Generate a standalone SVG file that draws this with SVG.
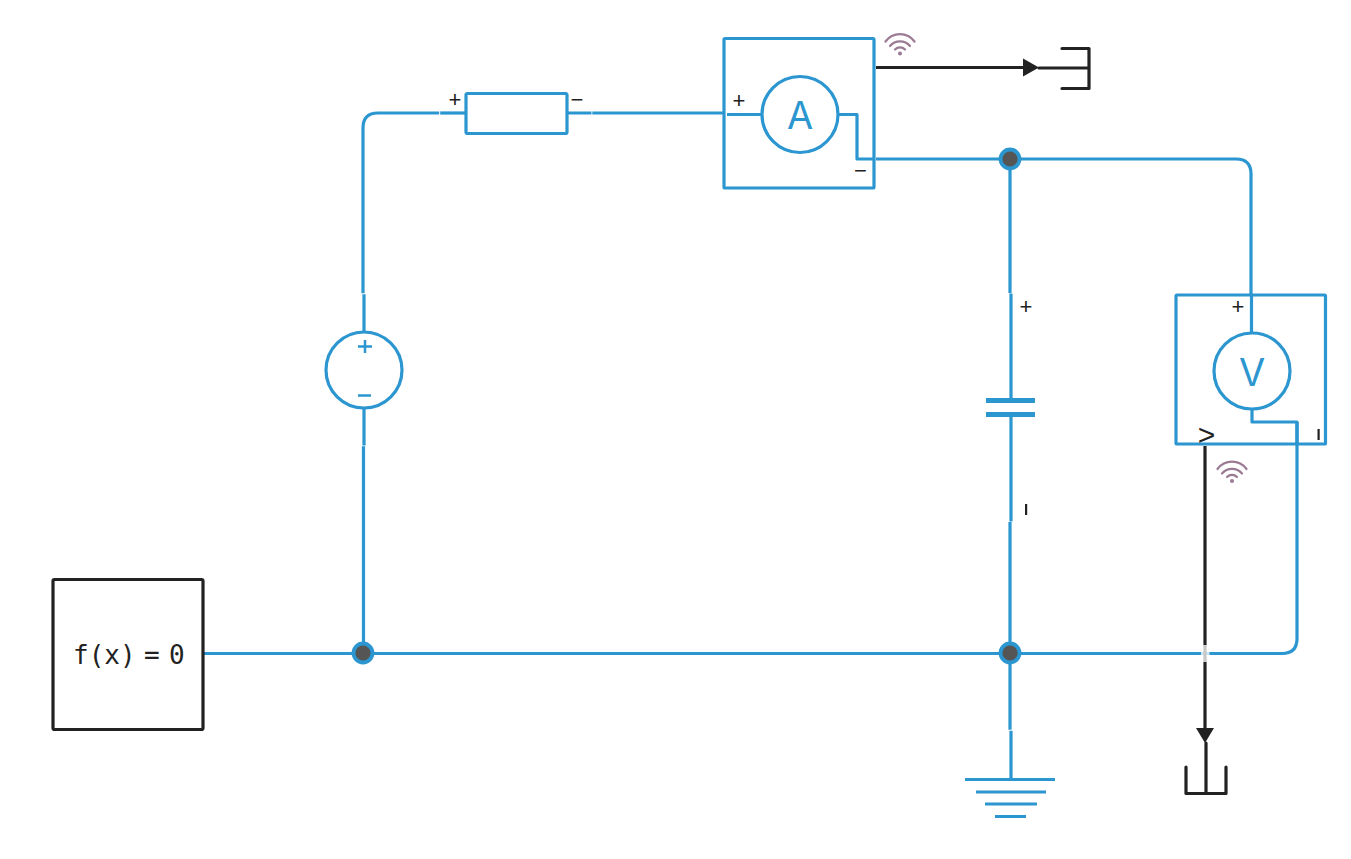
<svg xmlns="http://www.w3.org/2000/svg" width="1351" height="859" viewBox="0 0 1351 859">
<style>
.w{fill:none;stroke:#2b96d0;stroke-width:3.2;stroke-linejoin:round}
.b{fill:none;stroke:#222;stroke-width:3.2;stroke-linejoin:round;stroke-linecap:round}
.c{fill:#222;stroke:none}
.j{fill:#555;stroke:#2b96d0;stroke-width:3.8}
.t{font-family:"Liberation Sans",sans-serif;font-size:22px;fill:#222;text-anchor:middle}
.l{font-family:Inter,sans-serif;font-weight:400;font-size:38px;fill:#2b96d0;text-anchor:middle}
.f{fill:none;stroke:#9b7a94;stroke-width:2.200;stroke-linecap:round}
.d{fill:#9b7a94}
</style>
<defs>
<g id="wifi">
<path class="f" d="M-14.500 -12A18 18 0 0 1 14.500 -12M-10 -7.500A13 13 0 0 1 10 -7.500M-5 -4A7 7 0 0 1 5 -4"/>
<circle class="d" cx="0" cy="0" r="2"/>
</g>
</defs>
<rect width="1351" height="859" fill="#fff"/>
<g id="connectors">
<path class="w" d="M204 653.500H1282Q1297 653.500 1297 638.500V422"/>
<path class="w" d="M363 293.300V128Q363 113 378 113H439.200"/>
<path class="w" d="M440.200 113H466"/>
<path class="w" d="M567 113H591.500M592.300 113H724"/>
<path class="w" d="M363.500 446.300V653"/>
<path class="w" d="M876 159H1236Q1251 159 1251 174V294"/>
<path class="w" d="M1010 159V293"/>
<path class="w" d="M1010 522V653"/>
<path class="w" d="M1010 653V729.700"/>
<path class="b" style="stroke-linecap:butt" d="M876 67.500H1025"/>
<polygon class="c" points="1023,58.500 1039,67.500 1023,76.500"/>
<path class="b" style="stroke-linecap:butt" d="M1205 446V730"/>
<polygon class="c" points="1196,728 1214,728 1205,743"/>
<rect x="1201" y="645" width="8.500" height="17" fill="#fff" opacity="0.75"/>
</g>
<g id="source">
<circle class="w" cx="364" cy="370" r="38"/>
<path class="w" d="M364 294.300V332M364 408V445.500"/>
<path d="M358 346.500H372M365 340V353" fill="none" stroke="#2b96d0" stroke-width="2.500"/>
<path d="M358 395.500H371" fill="none" stroke="#2b96d0" stroke-width="2.500"/>
</g>
<g id="resistor">
<rect class="w" x="466" y="93.500" width="101" height="40" rx="1.500"/>
<text class="t" x="455" y="107">+</text>
<text class="t" x="577" y="107">−</text>
</g>
<g id="ammeter">
<rect class="w" x="724" y="38.500" width="150" height="149.500" rx="1"/>
<circle class="w" cx="800" cy="114.500" r="38"/>
<path class="w" d="M727 114.500H762M839 114.500H857V159H874"/>
<text class="l" x="800" y="129">A</text>
<text class="t" x="739" y="107.500">+</text>
<text class="t" x="860.500" y="177.500">−</text>
<use href="#wifi" x="900" y="53.500"/>
</g>
<g id="capacitor">
<path class="w" d="M1011 293.500V400M1011 414V521.500"/>
<rect x="986" y="398" width="49" height="5" fill="#2b96d0"/>
<rect x="986" y="412" width="49" height="5" fill="#2b96d0"/>
<text class="t" x="1026" y="313.500">+</text>
<rect x="1025" y="504" width="2.200" height="11" fill="#222"/>
</g>
<g id="voltmeter">
<rect class="w" x="1176" y="295" width="149.500" height="149" rx="1"/>
<circle class="w" cx="1252" cy="371" r="38"/>
<path class="w" d="M1251.500 295V333M1252 409V422H1297V444"/>
<text class="l" x="1252" y="386">V</text>
<text class="t" x="1238" y="313.500">+</text>
<text class="t" x="1206.500" y="444.500" style="font-size:30px">&gt;</text>
<rect x="1317.500" y="429" width="2.200" height="11" fill="#222"/>
<use href="#wifi" x="1232" y="481"/>
</g>
<g id="function">
<rect x="53" y="579.500" width="150" height="150" rx="1.500" fill="#fff" stroke="#222" stroke-width="3.200"/>
<text x="73" y="664" font-family="'DejaVu Sans Mono',monospace" font-size="26" fill="#222">f(x)<tspan x="144">=</tspan><tspan x="169">0</tspan></text>
</g>
<g id="junction-1"><circle class="j" cx="363" cy="653" r="9.500"/></g>
<g id="junction-2"><circle class="j" cx="1010" cy="159" r="9.500"/></g>
<g id="junction-3"><circle class="j" cx="1010" cy="653" r="9.500"/></g>
<g id="ground">
<path class="w" d="M1011 730.700V779M965 779.500H1055M976 792H1046M985 804H1037M995 816.500H1026"/>
</g>
<g id="sink-right">
<path class="b" d="M1039 68H1089M1062 48.500H1089V88.500H1062"/>
</g>
<g id="sink-bottom">
<path class="b" d="M1206 743V793.500M1186 767V793.500H1226V767"/>
</g>
</svg>
